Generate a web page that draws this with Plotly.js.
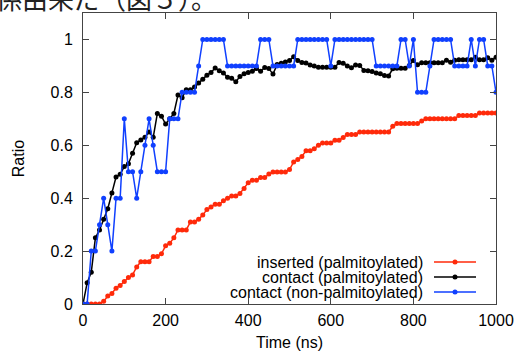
<!DOCTYPE html>
<html>
<head>
<meta charset="utf-8">
<script src="https://cdn.plot.ly/plotly-3.0.1.min.js"></script>
<style>html,body{margin:0;padding:0;background:#fff;overflow:hidden}</style>
</head>
<body>
<div id="chart" style="width:515px;height:351px"></div>
<script>
var time = [0,10,20,30,40,50,60,70,80,90,100,110,120,130,140,150,160,170,180,190,
  200,210,220,230,240,250,260,270,280,290,300,310,320,330,340,350,360,370,380,390,
  400,410,420,430,440,450,460,470,480,490,500,510,520,530,540,550,560,570,580,590,
  600,610,620,630,640,650,660,670,680,690,700,710,720,730,740,750,760,770,780,790,
  800,810,820,830,840,850,860,870,880,890,900,910,920,930,940,950,960,970,980,990,1000];

var insertedPalm = [0,0,0,0,0, 0.01,0.03,0.04,0.06,0.07,
  0.085,0.10,0.11,0.14,0.16, 0.16,0.16,0.18,0.18,0.19,
  0.22,0.23,0.25,0.28,0.28, 0.28,0.31,0.31,0.32,0.336,
  0.357,0.367,0.377,0.377,0.39, 0.40,0.408,0.408,0.418,0.437,
  0.458,0.468,0.468,0.478,0.478, 0.491,0.499,0.499,0.499,0.499,
  0.508,0.537,0.546,0.558,0.579, 0.579,0.587,0.60,0.609,0.609,
  0.609,0.619,0.619,0.629,0.641, 0.641,0.641,0.65,0.65,0.65,
  0.65,0.65,0.65,0.65,0.65, 0.672,0.682,0.682,0.682,0.682,
  0.682,0.682,0.692,0.70,0.70, 0.70,0.70,0.70,0.70,0.70,
  0.70,0.713,0.713,0.713,0.713, 0.713,0.722,0.722,0.722,0.722,
  0.722];

var contactPalm = [0,0.08,0.12,0.25,0.28, 0.32,0.36,0.42,0.48,0.49,
  0.52,0.53,0.57,0.61,0.62, 0.63,0.65,0.63,0.72,0.71,
  0.68,0.70,0.72,0.79,0.78, 0.81,0.81,0.82,0.835,0.85,
  0.865,0.875,0.892,0.882,0.873, 0.857,0.853,0.84,0.86,0.87,
  0.875,0.88,0.89,0.88,0.894, 0.89,0.869,0.905,0.91,0.915,
  0.92,0.935,0.92,0.913,0.911, 0.903,0.90,0.895,0.895,0.895,
  0.895,0.895,0.913,0.91,0.90, 0.893,0.903,0.902,0.883,0.882,
  0.879,0.873,0.87,0.864,0.862, 0.889,0.891,0.891,0.891,0.902,
  0.92,0.904,0.912,0.912,0.912, 0.912,0.912,0.912,0.921,0.914,
  0.921,0.923,0.923,0.923,0.923, 0.933,0.923,0.923,0.931,0.921,
  0.933];

var contactNonPalm = [0,0,0.2,0.2,0.3, 0.4,0.3,0.2,0.4,0.4,
  0.7,0.5,0.5,0.4,0.5, 0.6,0.7,0.6,0.5,0.5,
  0.5,0.7,0.7,0.7,0.8, 0.8,0.8,0.8,0.9,1,
  1,1,1,1,1, 0.9,0.9,0.9,0.9,0.9,
  0.9,0.9,0.9,1,1, 1,0.9,0.9,0.9,0.9,
  0.9,0.9,1,1,1, 1,1,1,1,1,
  0.9,1,1,1,1, 1,1,1,1,1,
  1,0.9,0.9,0.9,0.9, 0.9,0.9,1,1,0.9,
  1,0.8,0.8,0.8,0.9, 1,1,1,1,1,
  0.9,0.9,0.9,0.9,1, 0.9,1,1,0.9,0.9,
  0.8];

var seriesNames = ['inserted (palmitoylated)', 'contact (palmitoylated)', 'contact (non-palmitoylated)'];
var seriesColors = ['#ff2a0a', '#000000', '#1040ff'];
var seriesData = [insertedPalm, contactPalm, contactNonPalm];
var xTicks = [0,200,400,600,800,1000];
var yTicks = [0,0.2,0.4,0.6,0.8,1];
var yTickText = ['0','0.2','0.4','0.6','0.8','1'];
var topText = '係由来だ（図５）。';

var FONT = 'Liberation Sans, Arial, Helvetica, sans-serif';
var FS = 16;

var traces = seriesData.map(function(d, i){
  return {
    x: time, y: d, type: 'scatter', mode: 'lines+markers',
    name: seriesNames[i],
    line: {color: seriesColors[i], width: 1.5},
    marker: {color: seriesColors[i], size: 5, symbol: 'circle'},
    showlegend: false, hoverinfo: 'skip'
  };
});

// manual legend (text right-aligned, sample on right)
var L = 83, W = 413, B = 304, H = 291;
function px(p){ return (p - L) / W; }
function py(p){ return (B - p) / H; }
var rowsY = [262, 277, 292];
var shapes = [];
var annotations = [];
seriesNames.forEach(function(n, i){
  var yy = py(rowsY[i]);
  shapes.push({type:'line', xref:'paper', yref:'paper', x0: px(434), x1: px(476), y0: yy, y1: yy,
    line:{color: seriesColors[i], width: 1.5}});
  shapes.push({type:'circle', xref:'paper', yref:'paper', xsizemode:'pixel', ysizemode:'pixel',
    xanchor: px(455), yanchor: yy, x0:-2.5, x1:2.5, y0:-2.5, y1:2.5,
    fillcolor: seriesColors[i], line:{color: seriesColors[i], width:0}});
  annotations.push({xref:'paper', yref:'paper', x: px(424), y: yy, xanchor:'right', yanchor:'middle',
    text: n, showarrow:false, borderpad:0, font:{family: FONT, size: FS, color:'#000'}});
});
annotations.push({xref:'paper', yref:'paper', x: px(-6), y: 1, xanchor:'left', yanchor:'bottom',
  yshift: -5, text: topText, showarrow:false,
  font:{family:'Noto Sans CJK JP, sans-serif', size: 26, color:'#222'}});

var axisCommon = {
  showline: true, linecolor: '#444', linewidth: 1, mirror: 'ticks',
  ticks: 'inside', ticklen: 6, tickcolor: '#444', tickwidth: 1,
  showgrid: false, zeroline: false,
  tickfont: {family: FONT, size: FS, color: '#000'}
};

var layout = {
  width: 515, height: 351,
  margin: {l: 83, r: 19, t: 13, b: 47},
  paper_bgcolor: '#fff', plot_bgcolor: '#fff',
  font: {family: FONT, size: FS, color: '#000'},
  xaxis: Object.assign({}, axisCommon, {
    range: [0, 1000], tickvals: xTicks, ticklabelstandoff: 2,
    title: {text: 'Time (ns)', font: {family: FONT, size: FS}, standoff: 8}
  }),
  yaxis: Object.assign({}, axisCommon, {
    range: [0, 1.1], tickvals: yTicks, ticktext: yTickText, ticklabelstandoff: 6,
    title: {text: 'Ratio', font: {family: FONT, size: FS}, standoff: 21}
  }),
  shapes: shapes,
  annotations: annotations,
  showlegend: false
};

Plotly.newPlot('chart', traces, layout, {staticPlot: true, displayModeBar: false});
</script>
</body>
</html>
